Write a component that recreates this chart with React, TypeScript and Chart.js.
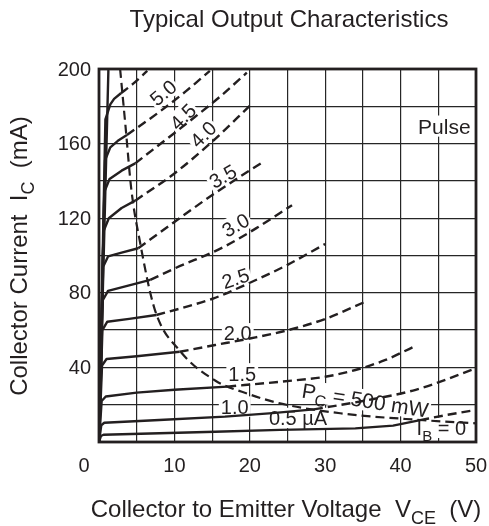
import React, { useEffect, useRef } from "react";
import { Chart, registerables } from "chart.js";

Chart.register(...registerables);

const FONT = '"Liberation Sans", Arial, Helvetica, sans-serif';
const INK = "#231f20";

// Axis ticks
const xTickValues = [0, 10, 20, 30, 40, 50];
const yTickValues = [40, 80, 120, 160, 200];

// Base-current curves (bottom to top). Last one is the unlabeled steep envelope.
const curveNames = ["I_{B} = 0", "0.5 µA", "1.0", "1.5", "2.0", "2.5", "3.0", "3.5", "4.0", "4.5", "5.0", ""];

const solidVce: number[][] = [
  [0, 0.25, 0.6, 8, 15.4, 24, 34, 39, 42.6],
  [0, 0.3, 0.7, 8, 16.7, 23, 28.5],
  [0, 0.35, 0.9, 5, 10, 17],
  [0, 0.4, 1.0, 5, 10.7],
  [0, 0.45, 1.1, 4, 7.6],
  [0, 0.5, 1.2, 4, 6.8],
  [0, 0.55, 1.2, 3, 5.2],
  [0, 0.6, 1.3, 3, 4.8],
  [0, 0.7, 1.4, 3, 4.8],
  [0, 0.8, 1.5, 2.5, 3.7],
  [0, 0.85, 1.5, 2.0, 2.9],
  [0, 1.25, 1.3],
];
const solidIc: number[][] = [
  [0, 3.2, 3.9, 4.7, 5.5, 6.5, 7.3, 8.8, 11.7],
  [0, 9, 10.3, 11.8, 13.6, 15.5, 17.5],
  [0, 22, 24.4, 26.5, 28, 29.7],
  [0, 41, 44.5, 46, 48.4],
  [0, 60, 64.5, 66, 68.1],
  [0, 76, 81, 84, 86.9],
  [0, 94, 99.5, 101.5, 103.9],
  [0, 113, 120, 125.5, 129.4],
  [0, 134, 141, 145.5, 149.4],
  [0, 151, 158, 161.5, 164.6],
  [0, 173, 181, 184, 187],
  [0, 200, 215],
];
const dashedVce: number[][] = [
  [42.6, 46, 50],
  [28.5, 35, 42, 50],
  [17, 24, 30, 34, 38, 41.7],
  [10.7, 15.4, 20, 25.1, 30, 35.2],
  [7.6, 12, 15.2, 19.8, 25, 30],
  [6.8, 10, 16.5, 21, 25.6],
  [5.2, 10, 15.4, 22],
  [4.8, 10, 15, 20.1],
  [4.8, 12, 16, 19.6],
  [3.7, 8, 11.5, 14.7],
  [2.9, 4.5, 6.4],
  [],
];
const dashedIc: number[][] = [
  [11.7, 14.4, 17.2],
  [17.5, 22, 28, 39.5],
  [29.7, 32.3, 35, 38.6, 44, 51],
  [48.4, 52, 55.5, 60, 66, 75],
  [68.1, 73, 77, 85, 95, 106.2],
  [86.9, 93, 104.5, 115, 127],
  [103.9, 118, 133.5, 150.8],
  [129.4, 144, 161, 180.7],
  [149.4, 172, 185, 198],
  [164.6, 177, 188, 199],
  [187, 192, 199],
  [],
];

// Curve label anchors (data units) and rotation (degrees)
const labelVce = [45.4, 26.4, 18.0, 19.0, 18.4, 18.1, 18.1, 16.4, 13.8, 11.1, 8.5, 0];
const labelIc = [7.6, 12.9, 19.0, 36.8, 58.3, 87.9, 116.4, 142.6, 165.1, 174.5, 187.4, 0];
const labelAngle = [0, 0, 0, 0, 0, -18, -30, -30, -45, -45, -40, 0];

// Collector dissipation limit Pc = 500 mW
const pcVce = [2.8, 3.5, 4.3, 5.4, 7.4, 10.7, 15.4, 20, 24, 32, 42.6, 50];
const pcIc = [200, 170, 135, 108, 71, 49, 33, 25.5, 20.7, 15.4, 11.8, 10];
const pcLabel = "P_{C} = 500 mW";
const pcLabelAt = [35.3, 22.5];
const pulseLabel = "Pulse";
const pulseAt = [45.8, 169.4];

const title = "Typical Output Characteristics";
const xTitle = "Collector to Emitter Voltage  V_{CE}  (V)";
const yTitle = "Collector Current  I_{C}  (mA)";

type Part = { t: string; sub: boolean };
function parse(s: string): Part[] {
  const parts: Part[] = [];
  const re = /_\{([^}]*)\}/g;
  let last = 0;
  let m: RegExpExecArray | null;
  while ((m = re.exec(s))) {
    if (m.index > last) parts.push({ t: s.slice(last, m.index), sub: false });
    parts.push({ t: m[1], sub: true });
    last = m.index + m[0].length;
  }
  if (last < s.length) parts.push({ t: s.slice(last), sub: false });
  return parts;
}

function richWidth(ctx: CanvasRenderingContext2D, parts: Part[], size: number) {
  let w = 0;
  for (const p of parts) {
    ctx.font = `${p.sub ? Math.round(size * 0.75) : size}px ${FONT}`;
    w += ctx.measureText(p.t).width;
  }
  return w;
}

function drawRich(ctx: CanvasRenderingContext2D, parts: Part[], x: number, y: number, size: number) {
  let cx = x;
  for (const p of parts) {
    const s = p.sub ? Math.round(size * 0.75) : size;
    ctx.font = `${s}px ${FONT}`;
    ctx.fillText(p.t, cx, p.sub ? y + size * 0.28 : y);
    cx += ctx.measureText(p.t).width;
  }
}

function knockLabel(ctx: CanvasRenderingContext2D, text: string, px: number, py: number, angleDeg: number, size: number) {
  const parts = parse(text);
  ctx.save();
  ctx.translate(px, py);
  ctx.rotate((angleDeg * Math.PI) / 180);
  const w = richWidth(ctx, parts, size);
  const capH = size * 0.72;
  ctx.fillStyle = "#ffffff";
  ctx.fillRect(-w / 2 - 2, -capH / 2 - 3, w + 4, capH + 6);
  ctx.fillStyle = INK;
  ctx.textBaseline = "alphabetic";
  ctx.textAlign = "left";
  drawRich(ctx, parts, -w / 2, capH / 2, size);
  ctx.restore();
}

const annotations = {
  id: "annotations",
  beforeDatasetsDraw(chart: any) {
    const ctx: CanvasRenderingContext2D = chart.ctx;
    const xs = chart.scales.x;
    const ys = chart.scales.y;
    ctx.save();
    curveNames.forEach((name, i) => {
      if (!name) return;
      knockLabel(ctx, name, xs.getPixelForValue(labelVce[i]), ys.getPixelForValue(labelIc[i]), labelAngle[i], 20);
    });
    knockLabel(ctx, pcLabel, xs.getPixelForValue(pcLabelAt[0]), ys.getPixelForValue(pcLabelAt[1]), 9, 21);
    knockLabel(ctx, pulseLabel, xs.getPixelForValue(pulseAt[0]), ys.getPixelForValue(pulseAt[1]), 0, 21);
    ctx.restore();
  },
  afterDraw(chart: any) {
    const ctx: CanvasRenderingContext2D = chart.ctx;
    const a = chart.chartArea;
    const xs = chart.scales.x;
    const ys = chart.scales.y;
    ctx.save();
    ctx.strokeStyle = INK;
    ctx.lineWidth = 2.8;
    ctx.strokeRect(a.left, a.top, a.right - a.left, a.bottom - a.top);
    ctx.fillStyle = INK;
    ctx.font = `20px ${FONT}`;
    ctx.textAlign = "right";
    ctx.textBaseline = "middle";
    for (const v of yTickValues) ctx.fillText(String(v), a.left - 8, ys.getPixelForValue(v) + 1);
    ctx.textAlign = "center";
    ctx.textBaseline = "alphabetic";
    for (const v of xTickValues) {
      const px = xs.getPixelForValue(v) + (v === 0 ? -15 : 0);
      ctx.fillText(String(v), px, 472);
    }
    ctx.font = `24px ${FONT}`;
    ctx.textAlign = "center";
    ctx.fillText(title, 289, 27);
    ctx.textAlign = "left";
    const xp = parse(xTitle);
    const xw = richWidth(ctx, xp, 24);
    drawRich(ctx, xp, 286 - xw / 2, 517, 24);
    const yp = parse(yTitle);
    ctx.save();
    ctx.translate(27, 256);
    ctx.rotate(-Math.PI / 2);
    const yw = richWidth(ctx, yp, 24);
    drawRich(ctx, yp, -yw / 2, 0, 24);
    ctx.restore();
    ctx.restore();
  },
};

export default function App() {
  const ref = useRef<HTMLCanvasElement>(null);
  useEffect(() => {
    if (!ref.current) return;
    const datasets: any[] = [];
    const base = {
      borderColor: INK,
      backgroundColor: INK,
      pointRadius: 0,
      showLine: true,
      fill: false,
    };
    curveNames.forEach((_, i) => {
      datasets.push({
        ...base,
        borderWidth: 2.4,
        tension: 0,
        borderJoinStyle: "round",
        data: solidVce[i].map((v, k) => ({ x: v, y: solidIc[i][k] })),
      });
      if (dashedVce[i].length) {
        datasets.push({
          ...base,
          borderWidth: 2.4,
          borderDash: [9, 5],
          cubicInterpolationMode: "monotone",
          data: dashedVce[i].map((v, k) => ({ x: v, y: dashedIc[i][k] })),
        });
      }
    });
    datasets.push({
      ...base,
      borderWidth: 2.2,
      borderDash: [9, 5],
      cubicInterpolationMode: "monotone",
      data: pcVce.map((v, k) => ({ x: v, y: pcIc[k] })),
    });

    const chart = new Chart(ref.current, {
      type: "scatter",
      data: { datasets },
      options: {
        responsive: true,
        maintainAspectRatio: false,
        animation: false,
        devicePixelRatio: 1,
        layout: { padding: { left: 99, top: 69, right: 13, bottom: 84 } },
        plugins: { legend: { display: false }, tooltip: { enabled: false } },
        events: [],
        scales: {
          x: {
            type: "linear",
            min: 0,
            max: 50,
            ticks: { display: false, stepSize: 5 },
            grid: { color: "#262626", lineWidth: 1.2, drawTicks: false },
            border: { display: false },
          },
          y: {
            type: "linear",
            min: 0,
            max: 200,
            ticks: { display: false, stepSize: 20 },
            grid: { color: "#262626", lineWidth: 1.2, drawTicks: false },
            border: { display: false },
          },
        },
      } as any,
      plugins: [annotations],
    });
    return () => chart.destroy();
  }, []);
  return (
    <div style={{ position: "fixed", left: 0, top: 0, width: 489, height: 526, background: "#fff" }}>
      <canvas ref={ref} />
    </div>
  );
}
